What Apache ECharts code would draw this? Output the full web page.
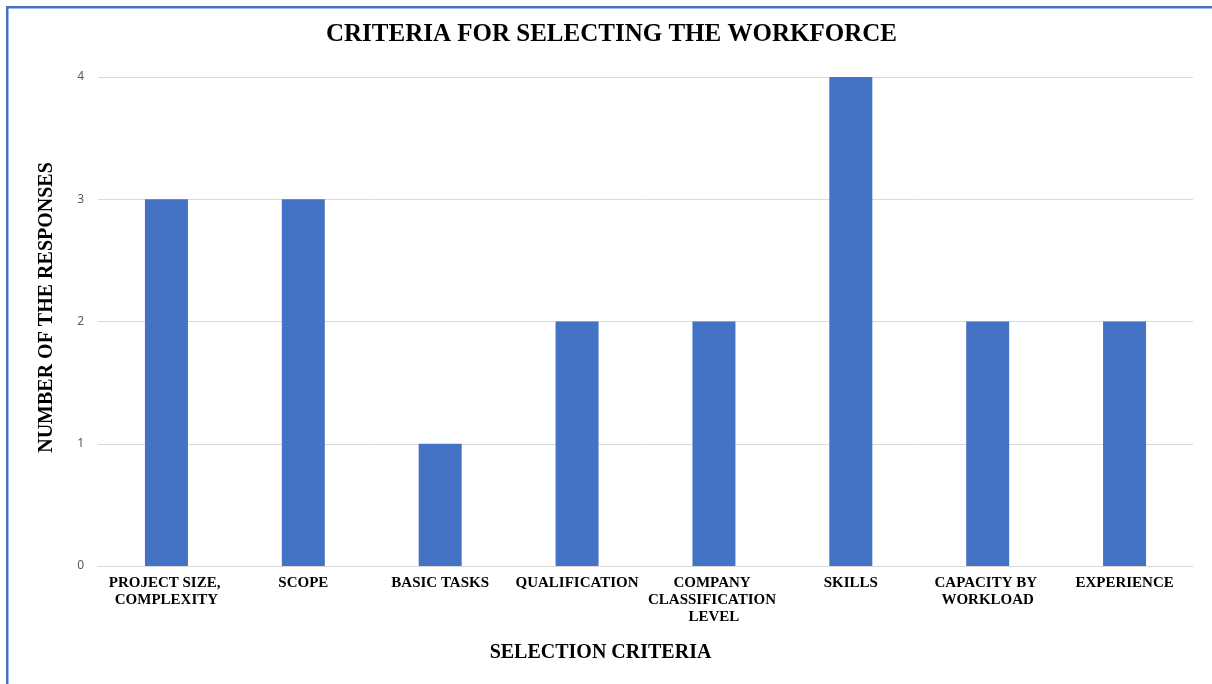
<!DOCTYPE html>
<html>
<head>
<meta charset="utf-8">
<script src="https://cdn.jsdelivr.net/npm/echarts@6/dist/echarts.min.js"></script>
<style>
  html, body { margin: 0; padding: 0; background: #ffffff; }
  #chart { width: 1212px; height: 684px; }
</style>
</head>
<body>
<div id="chart"></div>
<script>
// Selection criteria and how many responses named each one
const categories = [
  'PROJECT SIZE, COMPLEXITY',
  'SCOPE',
  'BASIC TASKS',
  'QUALIFICATION',
  'COMPANY CLASSIFICATION LEVEL',
  'SKILLS',
  'CAPACITY BY WORKLOAD',
  'EXPERIENCE'
];
const responses = [3, 3, 1, 2, 2, 4, 2, 2];
const yTicks = [0, 1, 2, 3, 4];

const serif = '"Liberation Serif", "Times New Roman", serif';
const frameColor = '#4472c4';

const chart = echarts.init(document.getElementById('chart'), null, { renderer: 'canvas' });

chart.setOption({
  animation: false,
  backgroundColor: '#ffffff',
  title: {
    text: 'CRITERIA FOR SELECTING THE WORKFORCE',
    left: 326,
    top: 17,
    padding: [5, 0, 5, 0],
    textStyle: { fontFamily: serif, fontWeight: 'bold', fontSize: 25, color: '#000000' }
  },
  graphic: [
    { type: 'rect', left: 6, top: 6, shape: { width: 1206, height: 2.5 }, style: { fill: frameColor }, silent: true },
    { type: 'rect', left: 6, top: 6, shape: { width: 2.5, height: 678 }, style: { fill: frameColor }, silent: true }
  ],
  grid: { left: 98, right: 19, top: 77, bottom: 118 },
  xAxis: {
    type: 'category',
    data: categories,
    name: 'SELECTION CRITERIA',
    nameLocation: 'middle',
    nameGap: 77,
    nameTextStyle: { fontFamily: serif, fontWeight: 'bold', fontSize: 20, color: '#000000', padding: [0, 90, 0, 0] },
    axisLine: { show: true, lineStyle: { color: '#d9d9d9', width: 1 } },
    axisTick: { show: false },
    axisLabel: {
      interval: 0,
      margin: 9,
      width: 134,
      overflow: 'break',
      fontFamily: serif,
      fontWeight: 'bold',
      fontSize: 15,
      lineHeight: 17,
      color: '#000000',
      align: 'center'
    }
  },
  yAxis: {
    type: 'value',
    min: yTicks[0],
    max: yTicks[yTicks.length - 1],
    interval: 1,
    name: 'NUMBER OF THE RESPONSES',
    nameLocation: 'middle',
    nameRotate: 90,
    nameGap: 41,
    nameTextStyle: { fontFamily: serif, fontWeight: 'bold', fontSize: 20, color: '#000000', padding: [0, 0, 0, 28] },
    axisLine: { show: false },
    axisTick: { show: false },
    axisLabel: { margin: 14, padding: [4, 0, 0, 0], verticalAlign: 'middle', lineHeight: 16, fontFamily: '"Noto Sans", sans-serif', fontSize: 12, color: '#595959' },
    splitLine: { show: true, lineStyle: { color: '#d9d9d9', width: 1 } }
  },
  series: [{
    type: 'bar',
    data: responses,
    barWidth: 43,
    itemStyle: { color: '#4472c4' }
  }]
});
</script>
</body>
</html>
